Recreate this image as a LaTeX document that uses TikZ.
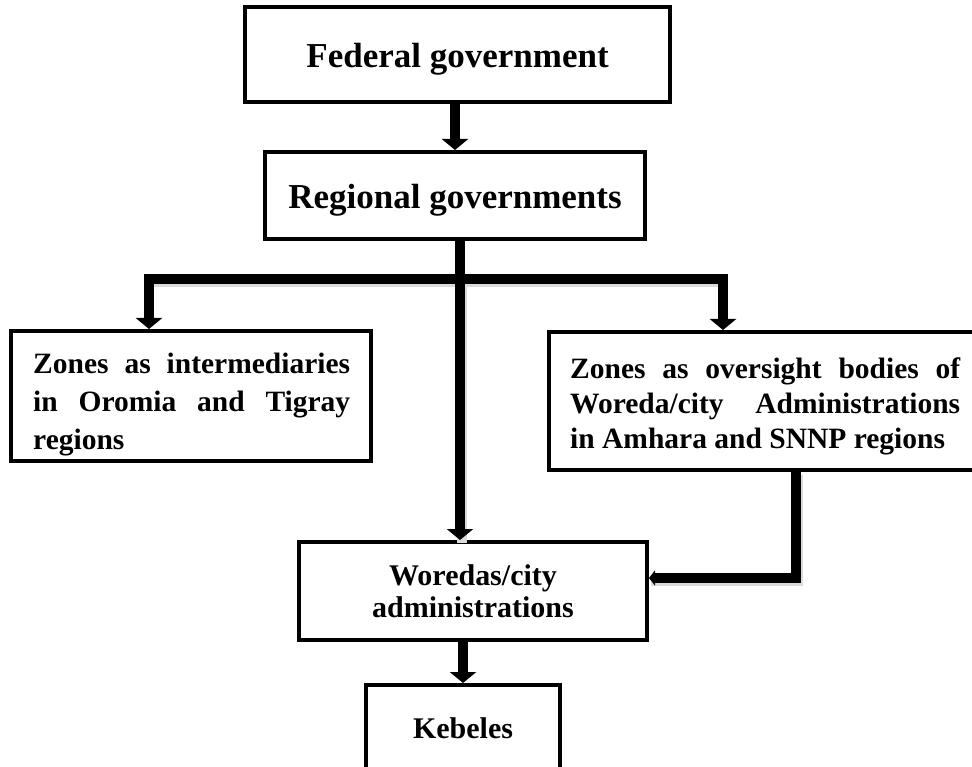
\documentclass[tikz,border=0pt]{standalone}
\usepackage{fontspec}
\setmainfont{Liberation Serif}
\usetikzlibrary{arrows.meta}
\begin{document}
\begin{tikzpicture}[x=1pt,y=-1pt,
  box/.style={draw=black,line width=4pt,fill=white,rectangle,inner sep=0pt},
  conn/.style={draw=black,line width=10pt,line join=miter,line cap=butt},
  arr/.style={conn,-{Triangle[width=26pt,length=11pt]}},
  smallarr/.style={conn,-{Triangle[width=15pt,length=6pt]}},
  shade/.style={draw=black!14,line width=10pt,line join=miter,line cap=butt},
  bigfont/.style={font=\bfseries\fontsize{35}{40}\selectfont,text height=26pt,text depth=0pt},
  midfont/.style={font=\bfseries\fontsize{30}{32}\selectfont},
  txt/.style={font=\bfseries\fontsize{29.5}{38}\selectfont,inner sep=0pt,align=left}
]
\useasboundingbox (0,0) rectangle (972,767);
% boxes
\node[box,bigfont,minimum width=425pt,minimum height=95pt] (fed) at (457.5,54.5) {Federal government};
\node[box,bigfont,minimum width=380pt,minimum height=87pt] (reg) at (455,195.5) {Regional governments};
\node[box,minimum width=360pt,minimum height=130pt] (zint) at (191,396) {};
\node[box,minimum width=441pt,minimum height=138pt] (zov) at (769.5,401) {};
\node[box,midfont,align=center,minimum width=348pt,minimum height=98pt] (wor) at (473,591) {Woredas/city\\administrations};
\node[box,midfont,text height=20pt,text depth=8pt,minimum width=194pt,minimum height=94pt] (keb) at (463,732) {Kebeles};
% texts of the zone boxes
\node[txt,anchor=north west] (zinttxt) at (33,353)
  {\makebox[317pt][s]{Zones as intermediaries}\\
   \makebox[317pt][s]{in Oromia and Tigray}\\
   regions};
\node[txt,font=\bfseries\fontsize{29.5}{35}\selectfont,anchor=north west] (zovtxt) at (570,358)
  {\makebox[390pt][s]{Zones as oversight bodies of}\\
   \makebox[390pt][s]{Woreda/city Administrations}\\
   in Amhara and SNNP regions};
% junction points
\coordinate (hub) at (460,279);
\coordinate (lt) at (149,279);
\coordinate (rt) at (723,279);
\coordinate (rc) at (796,578);
% connector shadows
\begin{scope}[transform canvas={shift={(2pt,-3pt)}}]
  \draw[shade] (lt) -- (rt);
  \draw[shade] (hub) -- (wor.north -| hub);
  \draw[shade] (zov.south -| rc) -- (rc) -- (wor.east |- rc);
\end{scope}
% connectors
\draw[arr] (reg.north |- fed.south) -- (reg.north);
\draw[arr] (reg.south -| hub) -- (wor.north -| hub);
\draw[arr] (hub) -- (lt) -- (lt |- zint.north);
\draw[arr] (hub) -- (rt) -- (rt |- zov.north);
\draw[smallarr] (zov.south -| rc) -- (rc) -- (wor.east |- rc);
\draw[arr] (wor.south -| keb.north) -- (keb.north);
\end{tikzpicture}
\end{document}
